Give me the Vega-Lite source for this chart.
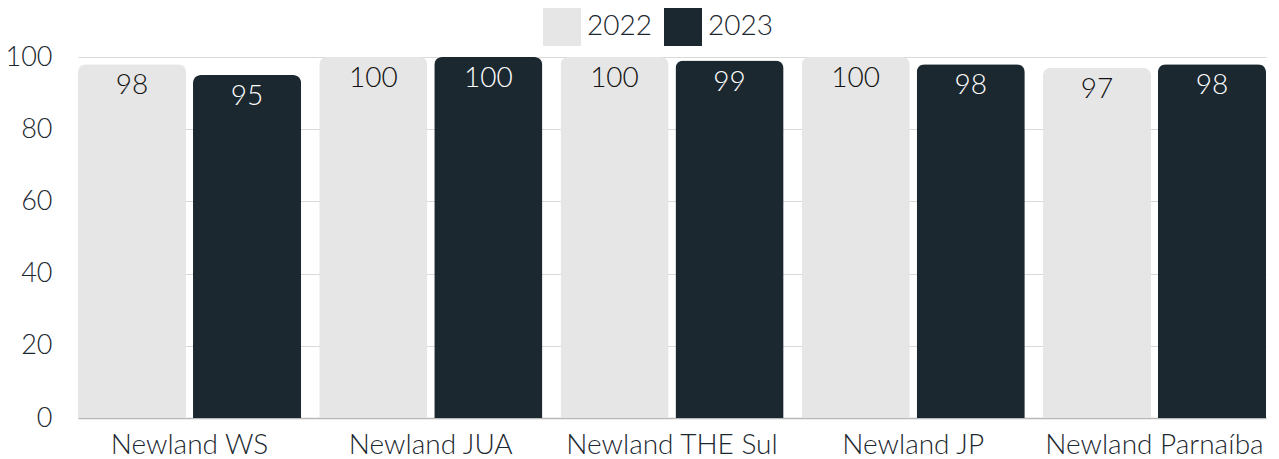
{
  "$schema": "https://vega.github.io/schema/vega-lite/v6.json",
  "autosize": {"type": "none"},
  "padding": {"left": 78, "top": 57, "right": 13, "bottom": 41},
  "width": 1188,
  "height": 361,
  "background": "white",
  "config": {
    "view": {"stroke": null},
    "font": "Lato",
    "axis": {"labelFont": "Lato", "labelColor": "#1c2830"},
    "legend": {"labelFont": "Lato"}
  },
  "data": {
    "values": [
      {"unit": "Newland WS", "year": "2022", "value": 98},
      {"unit": "Newland WS", "year": "2023", "value": 95},
      {"unit": "Newland JUA", "year": "2022", "value": 100},
      {"unit": "Newland JUA", "year": "2023", "value": 100},
      {"unit": "Newland THE Sul", "year": "2022", "value": 100},
      {"unit": "Newland THE Sul", "year": "2023", "value": 99},
      {"unit": "Newland JP", "year": "2022", "value": 100},
      {"unit": "Newland JP", "year": "2023", "value": 98},
      {"unit": "Newland Parnaíba", "year": "2022", "value": 97},
      {"unit": "Newland Parnaíba", "year": "2023", "value": 98}
    ]
  },
  "encoding": {
    "x": {
      "field": "unit",
      "type": "nominal",
      "sort": null,
      "scale": {"paddingInner": 0.075, "paddingOuter": 0},
      "axis": {
        "title": null,
        "labelAngle": 0,
        "labelFontSize": 28,
        "labelFontWeight": 300,
        "labelLimit": 0,
        "labelPadding": 13,
        "ticks": false,
        "domainColor": "#b8b8b8",
        "domainWidth": 1.5,
        "labelColor": "#1c2830"
      }
    },
    "xOffset": {
      "field": "year",
      "type": "nominal",
      "scale": {"paddingInner": 0.06, "paddingOuter": 0}
    },
    "y": {
      "field": "value",
      "type": "quantitative",
      "scale": {"domain": [0, 100], "nice": false},
      "axis": {
        "title": null,
        "values": [0, 20, 40, 60, 80, 100],
        "labelFontSize": 27,
        "labelFontWeight": 300,
        "labelPadding": 26,
        "ticks": false,
        "domain": false,
        "gridColor": "#d9d9d9",
        "gridWidth": 1,
        "labelColor": "#1c2830"
      }
    }
  },
  "layer": [
    {
      "mark": {"type": "bar", "cornerRadiusTopLeft": 8, "cornerRadiusTopRight": 8},
      "encoding": {
        "color": {
          "field": "year",
          "type": "nominal",
          "scale": {"domain": ["2022", "2023"], "range": ["#e6e6e6", "#1c2830"]},
          "legend": {
            "title": null,
            "orient": "none",
            "legendX": 465,
            "legendY": -49,
            "direction": "horizontal",
            "symbolType": "square",
            "symbolSize": 1444,
            "symbolStrokeWidth": 0,
            "labelFontSize": 28,
            "labelFontWeight": 300,
            "labelColor": "#1c2830",
            "labelOffset": 6,
            "columnPadding": 12
          }
        }
      }
    },
    {
      "mark": {"type": "text", "baseline": "middle", "dy": 22, "fontSize": 28, "fontWeight": 300},
      "encoding": {
        "text": {"field": "value", "type": "quantitative"},
        "color": {
          "condition": {"test": "datum.year === '2023'", "value": "#ffffff"},
          "value": "#111111"
        }
      }
    }
  ]
}
